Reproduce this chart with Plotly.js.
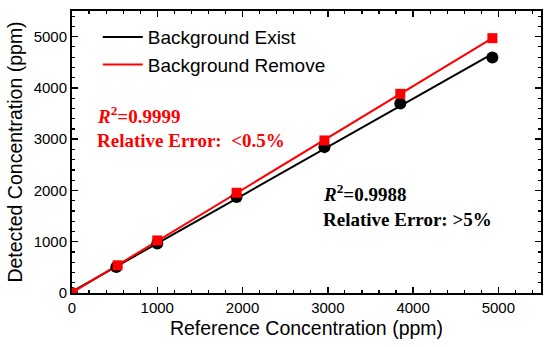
<!DOCTYPE html>
<html>
<head>
<meta charset="utf-8">
<script src="https://cdn.plot.ly/plotly-3.0.1.min.js"></script>
<style>html,body{margin:0;padding:0;background:#fff;}#chart{width:550px;height:347px;}</style>
</head>
<body>
<div id="chart"></div>
<script>
// Reference concentrations (ppm)
const refExist = [0, 520, 1000, 1930, 2960, 3850, 4930];
const detExist = [0, 505, 965, 1870, 2845, 3695, 4595];
const refRemove = [0, 535, 1000, 1930, 2960, 3850, 4930];
const detRemove = [0, 540, 1025, 1955, 2975, 3885, 4970];
const seriesNames = ["Background Exist", "Background Remove"];
const tickVals = [0, 1000, 2000, 3000, 4000, 5000];

function fit(x, y) {
  const n = x.length;
  let sx = 0, sy = 0, sxx = 0, sxy = 0;
  for (let i = 0; i < n; i++) { sx += x[i]; sy += y[i]; sxx += x[i]*x[i]; sxy += x[i]*y[i]; }
  const b = (n*sxy - sx*sy) / (n*sxx - sx*sx);
  const a = (sy - b*sx) / n;
  const x0 = Math.min(...x), x1 = Math.max(...x);
  return {x: [x0, x1], y: [a + b*x0, a + b*x1]};
}
const fE = fit(refExist, detExist);
const fR = fit(refRemove, detRemove);

const traces = [
  {x: fE.x, y: fE.y, mode: 'lines', name: seriesNames[0], line: {color: '#000', width: 2}},
  {x: fR.x, y: fR.y, mode: 'lines', name: seriesNames[1], line: {color: '#ff0000', width: 2}},
  {x: refExist, y: detExist, mode: 'markers', showlegend: false, marker: {color: '#000', size: 12, symbol: 'circle'}},
  {x: refRemove, y: detRemove, mode: 'markers', showlegend: false, marker: {color: '#ff0000', size: 10, symbol: 'square'}}
];

const axisCommon = {
  range: [0, 5500],
  tickvals: tickVals,
  ticks: 'inside',
  ticklen: 6,
  tickwidth: 1.5,
  tickcolor: '#000',
  showline: true,
  linecolor: '#000',
  linewidth: 2,
  mirror: 'allticks',
  showgrid: false,
  zeroline: false,
  tickfont: {family: 'Liberation Sans, Arial, sans-serif', size: 15, color: '#000'},
  minor: {dtick: 200, ticks: 'inside', ticklen: 3, tickwidth: 1.2, tickcolor: '#000', showgrid: false}
};

const layout = {
  width: 550, height: 347,
  margin: {l: 72, r: 9, t: 11, b: 54},
  paper_bgcolor: '#fff', plot_bgcolor: '#fff',
  font: {family: 'Liberation Sans, Arial, sans-serif', color: '#000'},
  xaxis: Object.assign({}, axisCommon, {
    title: {text: 'Reference Concentration (ppm)', font: {size: 19.5, color: '#000'}, standoff: 6}
  }),
  yaxis: Object.assign({}, axisCommon, {
    title: {text: 'Detected Concentration (ppm)', font: {size: 19.5, color: '#000'}, standoff: 6}
  }),
  showlegend: true,
  legend: {x: 0.055, y: 0.975, xanchor: 'left', yanchor: 'top', bgcolor: 'rgba(0,0,0,0)',
    font: {size: 19, color: '#000'}, itemwidth: 40, tracegroupgap: 0},
  annotations: [
    {xref: 'paper', yref: 'paper', x: 0.05, y: 0.63, xanchor: 'left', yanchor: 'middle', showarrow: false,
      text: '<b><i>R</i><sup>2</sup>=0.9999</b>', font: {family: 'Liberation Serif, Times New Roman, serif', size: 19, color: '#ff0000'}},
    {xref: 'paper', yref: 'paper', x: 0.05, y: 0.54, xanchor: 'left', yanchor: 'middle', showarrow: false,
      text: '<b>Relative Error:  &lt;0.5%</b>', font: {family: 'Liberation Serif, Times New Roman, serif', size: 19, color: '#ff0000'}},
    {xref: 'paper', yref: 'paper', x: 0.53, y: 0.355, xanchor: 'left', yanchor: 'middle', showarrow: false,
      text: '<b><i>R</i><sup>2</sup>=0.9988</b>', font: {family: 'Liberation Serif, Times New Roman, serif', size: 19, color: '#000'}},
    {xref: 'paper', yref: 'paper', x: 0.53, y: 0.26, xanchor: 'left', yanchor: 'middle', showarrow: false,
      text: '<b>Relative Error: &gt;5%</b>', font: {family: 'Liberation Serif, Times New Roman, serif', size: 19, color: '#000'}}
  ]
};

Plotly.newPlot('chart', traces, layout, {displayModeBar: false, staticPlot: true});
</script>
</body>
</html>
